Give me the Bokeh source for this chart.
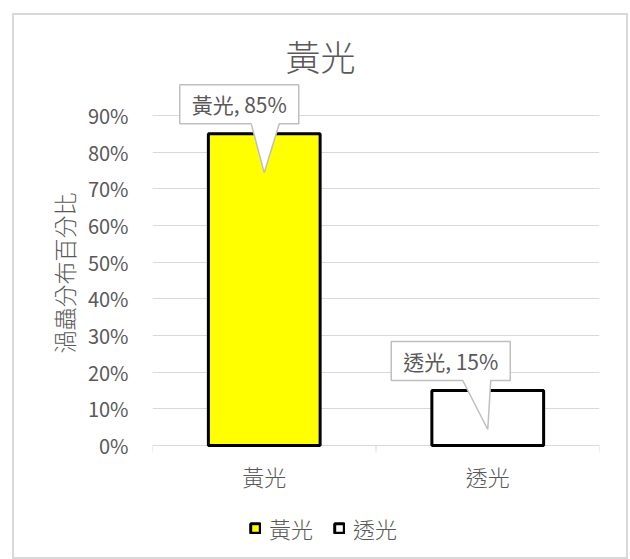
import numpy as np
from bokeh.plotting import figure
from bokeh.models import (ColumnDataSource, Range1d, FixedTicker, NumeralTickFormatter,
                          Label, Legend, LegendItem, Title)
from bokeh.core.properties import value
from bokeh.embed import file_html
from bokeh.resources import INLINE

# ---------------- data ----------------
title_text = "黃光"
y_axis_title = "渦蟲分布百分比"
categories = ["黃光", "透光"]
percentages = [0.85, 0.15]
y_ticks = [0.0, 0.1, 0.2, 0.3, 0.4, 0.5, 0.6, 0.7, 0.8, 0.9]

# ---------------- style ----------------
bar_colors = ["#FFFF00", "#FFFFFF"]
FONT = "Noto Sans CJK TC"
LIGHT_FONT = "Noto Sans CJK TC Light"
TEXT = "#595959"
GRID = "#D9D9D9"
CALLOUT_LINE = "#BFBFBF"

B_L, B_R, B_T, B_B = 138, 27, 12, 0
FRAME_W = 447
FRAME_H = 530
PX_PER_Y = 330 / 0.9                    # pixels per unit of share
Y_MAX = 418 / PX_PER_Y
Y_MIN = Y_MAX - FRAME_H / PX_PER_Y
n = len(categories)
UX = n / FRAME_W                        # data units per pixel (x)
UY = 1 / PX_PER_Y                       # data units per pixel (y)

# callout geometry (pixels)
box_dx = [-25, -37]
BOX_W, BOX_H, GAP, TIP_DROP = 119, 39, 10, 39
PTR_A, PTR_B = 12, 40

xs = np.arange(n) + 0.5
src = ColumnDataSource(dict(x=xs, top=percentages, cat=categories, color=bar_colors))

p = figure(frame_width=FRAME_W, frame_height=FRAME_H,
           x_range=Range1d(0, n), y_range=Range1d(Y_MIN, Y_MAX),
           output_backend="svg", toolbar_location=None,
           min_border_left=B_L, min_border_right=B_R, min_border_top=B_T, min_border_bottom=B_B)
p.styles = {"border": "2px solid #D9D9D9", "box-sizing": "content-box"}
p.margin = (13, 0, 0, 12)
p.outline_line_color = None
p.background_fill_color = "white"
p.border_fill_color = "white"

# x axis drawn inside the (extended) frame
p.xaxis.visible = False

# y axis
ya = p.yaxis[0]
ya.ticker = FixedTicker(ticks=y_ticks)
ya.formatter = NumeralTickFormatter(format="0%")
ya.axis_line_color = None
ya.major_tick_line_color = None
ya.major_tick_out = 0
ya.major_tick_in = 0
ya.minor_tick_line_color = None
ya.major_label_text_font = FONT
ya.major_label_text_font_size = "20px"
ya.major_label_text_color = TEXT
ya.major_label_standoff = 24

p.add_layout(Title(text=y_axis_title, align="left", offset=204, text_font=LIGHT_FONT,
                   text_font_size="23px", text_font_style="normal", text_color=TEXT,
                   standoff=8), "left")

p.xgrid.visible = False
p.ygrid.grid_line_color = GRID
p.ygrid.grid_line_width = 1

# category tick marks and labels
bounds = np.arange(n + 1).astype(float)
p.segment(x0=bounds, y0=np.zeros(n + 1), x1=bounds, y1=np.full(n + 1, -6 * UY),
          line_color=GRID, line_width=1)
p.text(x=xs, y=np.full(n, -30 * UY), text=categories, text_align="center",
       text_baseline="middle", text_font=value(LIGHT_FONT), text_font_size="22px",
       text_color=TEXT)

# bars
bars = p.vbar(x="x", top="top", width=0.5, source=src, fill_color="color",
              line_color="black", line_width=3)

# callouts
polys_x, polys_y, tx, ty, labels = [], [], [], [], []
for i in range(n):
    ax, ay = xs[i], percentages[i]
    bcx = ax + box_dx[i] * UX
    L, R = bcx - BOX_W / 2 * UX, bcx + BOX_W / 2 * UX
    B = ay + GAP * UY
    T = B + BOX_H * UY
    pa, pb = bcx + PTR_A * UX, bcx + PTR_B * UX
    tipy = ay - TIP_DROP * UY
    polys_x.append([L, R, R, pb, ax, pa, L])
    polys_y.append([T, T, B, B, tipy, B, B])
    tx.append(bcx)
    ty.append((B + T) / 2)
    labels.append(f"{categories[i]}, {percentages[i]:.0%}")

p.patches(polys_x, polys_y, fill_color="white", line_color=CALLOUT_LINE, line_width=1.5)
p.text(x=tx, y=ty, text=labels, text_align="center", text_baseline="middle",
       text_font=value(FONT), text_font_size="21px", text_color=TEXT)

# title
title_x = ((FRAME_W + B_L + B_R) / 2 - B_L) * UX
title_y = Y_MAX - 28 * UY
p.add_layout(Label(x=title_x, y=title_y, text=title_text, text_align="center",
                   text_baseline="middle", text_font=LIGHT_FONT, text_font_size="35px",
                   text_color=TEXT))

# legend
items = [LegendItem(label=c, renderers=[bars], index=i) for i, c in enumerate(categories)]
lg = Legend(items=items, location=(97, 13), orientation="horizontal")
lg.background_fill_alpha = 0
lg.border_line_color = None
lg.padding = 0
lg.margin = 0
lg.spacing = 20
lg.label_standoff = 8
lg.glyph_width = 12
lg.glyph_height = 12
lg.label_text_font = LIGHT_FONT
lg.label_text_font_size = "22px"
lg.label_text_color = TEXT
p.add_layout(lg, "center")

open("out.html", "w").write(file_html(p, INLINE))
